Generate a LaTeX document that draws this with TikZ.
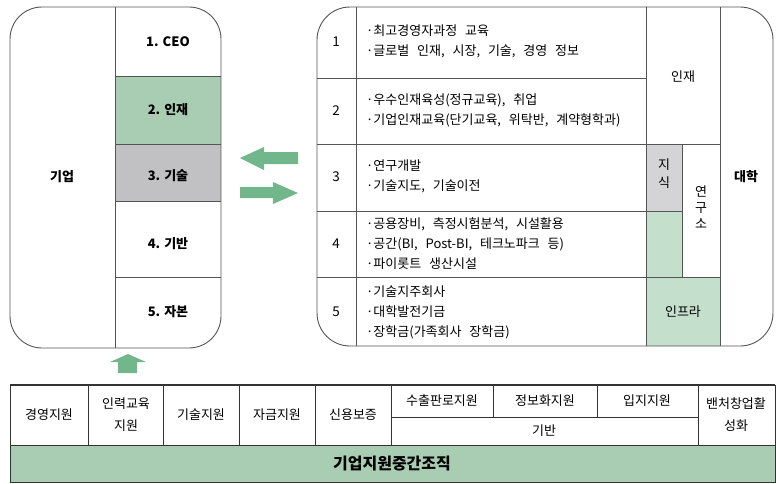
\documentclass[tikz,border=0pt]{standalone}
\usepackage{fontspec}
\setmainfont{Noto Sans CJK KR}
\newfontfamily\itemfont{Noto Sans CJK KR}[WordSpace=2.7]
\definecolor{linegray}{HTML}{555555}
\definecolor{darkline}{HTML}{333333}
\definecolor{arrowgreen}{HTML}{72B68C}
\definecolor{cellgreen}{HTML}{A8CDB2}
\definecolor{cellgray}{HTML}{C1C1C3}
\definecolor{lightgray}{HTML}{D4D4D6}
\definecolor{lightgreen}{HTML}{C4E0CD}
\tikzset{
  ln/.style={draw=linegray, line width=0.9pt},
  tbl/.style={draw=darkline, line width=0.9pt},
  lbl/.style={font=\fontsize{13}{15}\selectfont\bfseries, inner sep=0pt},
  item/.style={font=\itemfont\fontsize{13}{20}\selectfont, align=left, anchor=west, inner sep=0pt},
  cell/.style={font=\fontsize{13}{22}\selectfont, align=center, inner sep=0pt},
  num/.style={font=\fontsize{13.5}{15}\selectfont, inner sep=0pt},
  vert/.style={font=\fontsize{13}{18}\selectfont, align=center, inner sep=0pt},
  blockarrow/.style={fill=arrowgreen, draw=none},
}
\begin{document}
\begin{tikzpicture}[x=1pt,y=-1pt]
\useasboundingbox (0,0) rectangle (776,483);

% ---------- left box (기업) ----------
\fill[cellgreen] (115,76) rectangle (221,144);
\fill[cellgray] (115,144) rectangle (221,201);
\draw[ln, rounded corners=32pt] (10,7) rectangle (221,348);
\draw[ln] (115,7) -- (115,348);
\foreach \yy in {76,144,201,277} \draw[ln] (115,\yy) -- (221,\yy);
\node[lbl] (corp) at (62,177) {기업};
\node[lbl] (c1) at (168,42) {1. CEO};
\node[lbl] (c2) at (168,110) {2. 인재};
\node[lbl] (c3) at (168,176) {3. 기술};
\node[lbl] (c4) at (168,244) {4. 기반};
\node[lbl] (c5) at (168,312) {5. 자본};

% ---------- arrows ----------
\fill[blockarrow] (240,158) -- (264,147) -- (264,152) -- (298,152) -- (298,164) -- (264,164) -- (264,170) -- cycle;
\fill[blockarrow] (298,193) -- (273,182) -- (273,187) -- (240,187) -- (240,198) -- (273,198) -- (273,204) -- cycle;
\fill[blockarrow] (128,354) -- (146,362) -- (137,362) -- (137,373) -- (118,373) -- (118,362) -- (110,362) -- cycle;

% ---------- right box (대학) ----------
\fill[lightgray] (646,144) rectangle (682,211);
\fill[lightgreen] (646,211) -- (682,211) -- (682,277) -- (720,277) -- (720,346) -- (646,346) -- cycle;
\draw[ln, rounded corners=33pt] (317,7) rectangle (773,346);
\draw[ln] (356,7) -- (356,346);
\draw[ln] (646,7) -- (646,346);
\draw[ln] (720,7) -- (720,346);
\draw[ln] (682,144) -- (682,277);
\draw[ln] (317,78) -- (646,78);
\draw[ln] (317,144) -- (720,144);
\draw[ln] (317,211) -- (682,211);
\draw[ln] (317,277) -- (720,277);

\node[num] (n1) at (336,42) {1};
\node[num] (n2) at (336,111) {2};
\node[num] (n3) at (336,177) {3};
\node[num] (n4) at (336,244) {4};
\node[num] (n5) at (336,312) {5};

\node[item] (r1) at (366,41) {·최고경영자과정 교육\\·글로벌 인재, 시장, 기술, 경영 정보};
\node[item] (r2) at (366,110) {·우수인재육성(정규교육), 취업\\·기업인재교육(단기교육, 위탁반, 계약형학과)};
\node[item] (r3) at (366,176) {·연구개발\\·기술지도, 기술이전};
\node[item] (r4) at (366,244) {·공용장비, 측정시험분석, 시설활용\\·공간(BI, Post-BI, 테크노파크 등)\\·파이롯트 생산시설};
\node[item] (r5) at (366,312) {·기술지주회사\\·대학발전기금\\·장학금(가족회사 장학금)};

\node[num, font=\fontsize{13}{15}\selectfont] (hr) at (683,77) {인재};
\node[vert] (kn) at (664,174) {지\\식};
\node[vert, font=\fontsize{13}{16}\selectfont] (lab) at (701,207) {연\\구\\소};
\node[num, font=\fontsize{13}{15}\selectfont] (inf) at (683,312) {인프라};
\node[lbl] (univ) at (746,177) {대학};

% ---------- bottom table ----------
\fill[cellgreen] (10,445) rectangle (775,482);
\draw[tbl] (10,385) rectangle (775,482);
\draw[draw=darkline, line width=1.6pt] (10,385) -- (775,385);
\draw[tbl] (10,445) -- (775,445);
\foreach \xx in {88,163,239,315,391,698} \draw[tbl] (\xx,385) -- (\xx,445);
\foreach \xx in {493,597} \draw[tbl] (\xx,385) -- (\xx,417);
\draw[tbl] (391,417) -- (698,417);

\node[cell] (t1) at (49,415) {경영지원};
\node[cell] (t2) at (126,415) {인력교육\\지원};
\node[cell] (t3) at (201,415) {기술지원};
\node[cell] (t4) at (277,415) {자금지원};
\node[cell] (t5) at (353,415) {신용보증};
\node[cell] (t6) at (442,401) {수출판로지원};
\node[cell] (t7) at (545,401) {정보화지원};
\node[cell] (t8) at (647,401) {입지지원};
\node[cell] (t9) at (544,431) {기반};
\node[cell] (t10) at (736,415) {밴처창업활\\성화};
\node[font=\fontsize{16}{18}\selectfont\bfseries, inner sep=0pt] (mid) at (392,464) {기업지원중간조직};
\end{tikzpicture}
\end{document}
